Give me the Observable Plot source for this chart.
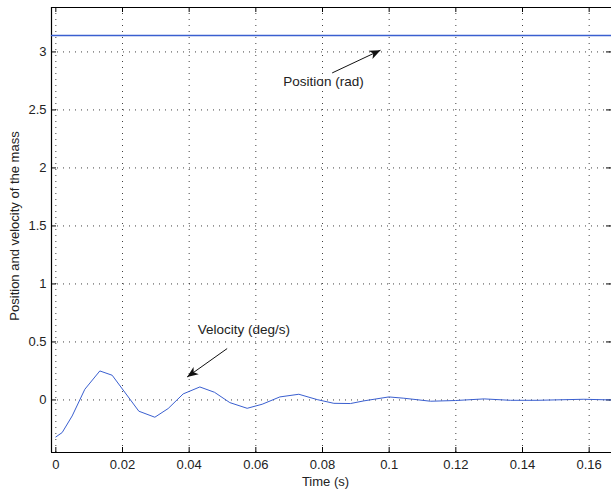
<!DOCTYPE html>
<html><head><meta charset="utf-8">
<script src="https://cdn.jsdelivr.net/npm/d3@7"></script>
<script src="https://cdn.jsdelivr.net/npm/@observablehq/plot@0.6"></script>
<style>body{margin:0;background:#fff}#chart svg{display:block}</style>
</head><body><div id="chart"></div>
<script>
// Velocity series (deg/s)
const time = [0, 0.0019, 0.0049, 0.0087, 0.0132, 0.0169, 0.0249, 0.0297, 0.0337, 0.0382, 0.0432, 0.0476, 0.0522, 0.0574, 0.0619, 0.0672, 0.0729, 0.0784, 0.0834, 0.0884, 0.0924, 0.0999, 0.1044, 0.1124, 0.1199, 0.1285, 0.1364, 0.1444, 0.1584, 0.1667];
const velocity = [-0.319, -0.281, -0.138, 0.092, 0.25, 0.213, -0.097, -0.149, -0.074, 0.052, 0.112, 0.066, -0.023, -0.072, -0.037, 0.026, 0.049, 0.003, -0.029, -0.031, -0.008, 0.026, 0.015, -0.011, -0.005, 0.009, -0.003, -0.003, 0.006, 0.0];
// Position series (rad)
const positionTime = [-0.0013, 0.1667];
const position = [3.1416, 3.1416];

const xTicks = [0, 0.02, 0.04, 0.06, 0.08, 0.1, 0.12, 0.14, 0.16];
const yTicks = [0, 0.5, 1, 1.5, 2, 2.5, 3];
const xDomain = [-0.0013, 0.1667];
const yDomain = [-0.453, 3.383];

const annLabels = ["Position (rad)", "Velocity (deg/s)"];
const annX = [0.0803, 0.0564];
const annY = [2.741, 0.604];
const arrowX1 = [0.0829, 0.0514];
const arrowY1 = [2.819, 0.443];
const arrowX2 = [0.0974, 0.0394];
const arrowY2 = [3.015, 0.198];

const xLabel = "Time (s)";
const yLabel = "Position and velocity of the mass";

const fmt = d => String(+(+d).toFixed(2));
const FONT = "'Liberation Sans', Arial, Helvetica, sans-serif";
const W = 611, H = 490, mL = 51, mR = 0, mT = 7, mB = 38;
const pw = W - mL - mR, ph = H - mT - mB;
const lineColor = "#3a5fd0";

const vel = time.map((t, i) => ({t, v: velocity[i]}));
const pos = positionTime.map((t, i) => ({t, v: position[i]}));
const arrows = arrowX1.map((_, i) => ({x1: arrowX1[i], y1: arrowY1[i], x2: arrowX2[i], y2: arrowY2[i]}));

const chart = Plot.plot({
  width: W, height: H,
  marginLeft: mL, marginRight: mR, marginTop: mT, marginBottom: mB,
  style: {fontFamily: FONT, fontSize: "13px", color: "#222", background: "#fff"},
  x: {domain: xDomain},
  y: {domain: yDomain},
  marks: [
    Plot.gridX(xTicks, {stroke: "#000", strokeOpacity: 0.75, strokeDasharray: "1,5"}),
    Plot.gridY(yTicks, {stroke: "#000", strokeOpacity: 0.75, strokeDasharray: "1,5"}),
    // inward tick marks on all four sides
    Plot.ruleX(xTicks, {stroke: "#000", insetTop: ph - 5}),
    Plot.ruleX(xTicks, {stroke: "#000", insetBottom: ph - 5}),
    Plot.ruleY(yTicks, {stroke: "#000", insetRight: pw - 5}),
    Plot.ruleY(yTicks, {stroke: "#000", insetLeft: pw - 5}),
    // frame (left, bottom, top)
    Plot.ruleX([xDomain[0]], {stroke: "#000", strokeWidth: 1.2}),
    Plot.ruleY([yDomain[0]], {stroke: "#000", strokeWidth: 1.2}),
    Plot.ruleY([yDomain[1]], {stroke: "#000", strokeWidth: 1.2}),
    Plot.axisX(xTicks, {tickSize: 0, tickPadding: 7, tickFormat: fmt, label: null, fill: "#222"}),
    Plot.axisY(yTicks, {tickSize: 0, tickPadding: 5, tickFormat: fmt, label: null, fill: "#222"}),
    Plot.text([xLabel], {frameAnchor: "bottom", dy: 29, dx: -6, lineAnchor: "middle", fill: "#222"}),
    Plot.text([yLabel], {frameAnchor: "left", rotate: -90, textAnchor: "middle", dx: -37, dy: -4, fill: "#222"}),
    Plot.line(pos, {x: "t", y: "v", stroke: lineColor, strokeWidth: 1.4}),
    Plot.line(vel, {x: "t", y: "v", stroke: lineColor, strokeWidth: 1}),
    Plot.link(arrows, {x1: "x1", y1: "y1", x2: "x2", y2: "y2", stroke: "#111", strokeWidth: 1, className: "ann-arrow"}),
    Plot.text(annLabels, {x: (d, i) => annX[i], y: (d, i) => annY[i], fill: "#222", fontSize: 13.5})
  ]
});

// filled arrowheads for the annotation arrows
const ns = "http://www.w3.org/2000/svg";
const defs = document.createElementNS(ns, "defs");
const marker = document.createElementNS(ns, "marker");
marker.setAttribute("id", "annHead");
marker.setAttribute("markerUnits", "userSpaceOnUse");
marker.setAttribute("viewBox", "-12 -6 14 12");
marker.setAttribute("refX", "0");
marker.setAttribute("refY", "0");
marker.setAttribute("markerWidth", "14");
marker.setAttribute("markerHeight", "12");
marker.setAttribute("orient", "auto");
const mp = document.createElementNS(ns, "path");
mp.setAttribute("d", "M0,0L-11,-4.5L-8,0L-11,4.5Z");
mp.setAttribute("fill", "#111");
marker.appendChild(mp);
defs.appendChild(marker);
chart.insertBefore(defs, chart.firstChild);
chart.querySelectorAll(".ann-arrow path").forEach(p => p.setAttribute("marker-end", "url(#annHead)"));

document.getElementById("chart").appendChild(chart);
</script>
</body></html>
